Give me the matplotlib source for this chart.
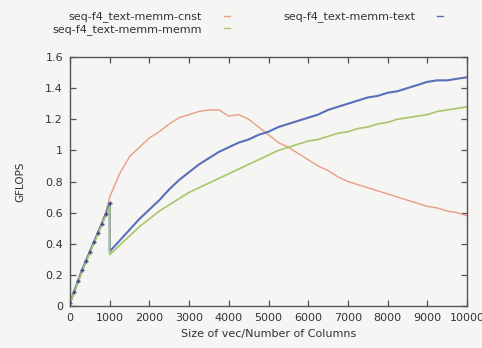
import matplotlib
matplotlib.use("Agg")
import matplotlib.pyplot as plt
from matplotlib.lines import Line2D

# sizes below the 1000 switch point (all three kernels share the same path)
sizes_small = [0, 100, 200, 300, 400, 500, 600, 700, 800, 900, 1000]
cnst_small = [0.02, 0.08, 0.15, 0.22, 0.28, 0.35, 0.41, 0.47, 0.53, 0.60, 0.70]
text_small = [0.02, 0.09, 0.16, 0.23, 0.29, 0.35, 0.41, 0.47, 0.53, 0.59, 0.66]
memm_small = [0.02, 0.08, 0.15, 0.22, 0.28, 0.34, 0.40, 0.46, 0.52, 0.58, 0.64]

# sizes from 1000 to 10000
sizes_large = [1000, 1250, 1500, 1750, 2000, 2250, 2500, 2750, 3000, 3250,
               3500, 3750, 4000, 4250, 4500, 4750, 5000, 5250, 5500, 5750,
               6000, 6250, 6500, 6750, 7000, 7250, 7500, 7750, 8000, 8250,
               8500, 8750, 9000, 9250, 9500, 9750, 10000]
cnst_large = [0.70, 0.85, 0.96, 1.02, 1.08, 1.12, 1.17, 1.21, 1.23, 1.25,
              1.26, 1.26, 1.22, 1.23, 1.20, 1.15, 1.10, 1.05, 1.02, 0.98,
              0.94, 0.90, 0.87, 0.83, 0.80, 0.78, 0.76, 0.74, 0.72, 0.70,
              0.68, 0.66, 0.64, 0.63, 0.61, 0.60, 0.58]
text_large = [0.35, 0.42, 0.49, 0.56, 0.62, 0.68, 0.75, 0.81, 0.86, 0.91,
              0.95, 0.99, 1.02, 1.05, 1.07, 1.10, 1.12, 1.15, 1.17, 1.19,
              1.21, 1.23, 1.26, 1.28, 1.30, 1.32, 1.34, 1.35, 1.37, 1.38,
              1.40, 1.42, 1.44, 1.45, 1.45, 1.46, 1.47]
memm_large = [0.33, 0.39, 0.45, 0.51, 0.56, 0.61, 0.65, 0.69, 0.73, 0.76,
              0.79, 0.82, 0.85, 0.88, 0.91, 0.94, 0.97, 1.00, 1.02, 1.04,
              1.06, 1.07, 1.09, 1.11, 1.12, 1.14, 1.15, 1.17, 1.18, 1.20,
              1.21, 1.22, 1.23, 1.25, 1.26, 1.27, 1.28]

labels = ['seq-f4_text-memm-cnst', 'seq-f4_text-memm-text', 'seq-f4_text-memm-memm']
colors = ['#eb9c86', '#5a6fb8', '#a8c66a']
x_ticks = [0, 1000, 2000, 3000, 4000, 5000, 6000, 7000, 8000, 9000, 10000]
y_ticks = [0, 0.2, 0.4, 0.6, 0.8, 1.0, 1.2, 1.4, 1.6]
y_ticklabels = ['0', '0.2', '0.4', '0.6', '0.8', '1', '1.2', '1.4', '1.6']

plt.rcParams['font.family'] = ['DejaVu Sans']
bg = '#f5f5f3'
fig = plt.figure(figsize=(4.82, 3.48), dpi=100, facecolor=bg)
ax = fig.add_axes([70 / 482, 1 - 306 / 348, 397 / 482, 249 / 348])
ax.set_facecolor(bg)

series = [(cnst_small, cnst_large), (text_small, text_large), (memm_small, memm_large)]
widths = [1.0, 1.5, 1.2]
for (small, large), c, lw in zip(series, colors, widths):
    ax.plot(sizes_small + sizes_large, small + large, color=c, lw=lw, zorder=2)

# the dark point markers on the shared small-size part
ax.plot(sizes_small, text_small, ls='none', marker='+', ms=3.5, mew=1.0,
        color='#444a66', zorder=3)

ax.set_xlim(0, 10000)
ax.set_ylim(0, 1.6)
ax.set_xticks(x_ticks)
ax.set_yticks(y_ticks)
ax.set_yticklabels(y_ticklabels)
ax.tick_params(direction='in', length=4, width=0.9, colors='#555555',
               labelcolor='#333333', labelsize=8, top=True, right=True, pad=5)
for s in ax.spines.values():
    s.set_color('#555555')
    s.set_linewidth(1.0)

ax.set_xlabel('Size of vec/Number of Columns', fontsize=8, color='#333333', labelpad=4)
ax.set_ylabel('GFLOPS', fontsize=7.5, color='#333333', labelpad=14)

handles = [Line2D([], [], color=colors[0], lw=1.0),
           Line2D([], [], color=colors[2], lw=1.0),
           Line2D([], [], color=colors[1], lw=1.0)]
fig.legend(handles, [labels[0], labels[2], labels[1]], ncol=2, markerfirst=False,
           loc='upper left', bbox_to_anchor=(47 / 482, 1 - 6 / 348), borderpad=0,
           frameon=False, fontsize=8, handlelength=0.5, handletextpad=2.0,
           columnspacing=4.8, labelspacing=0.15, labelcolor='#333333')

fig.savefig('out.png', dpi=100, facecolor=bg)
